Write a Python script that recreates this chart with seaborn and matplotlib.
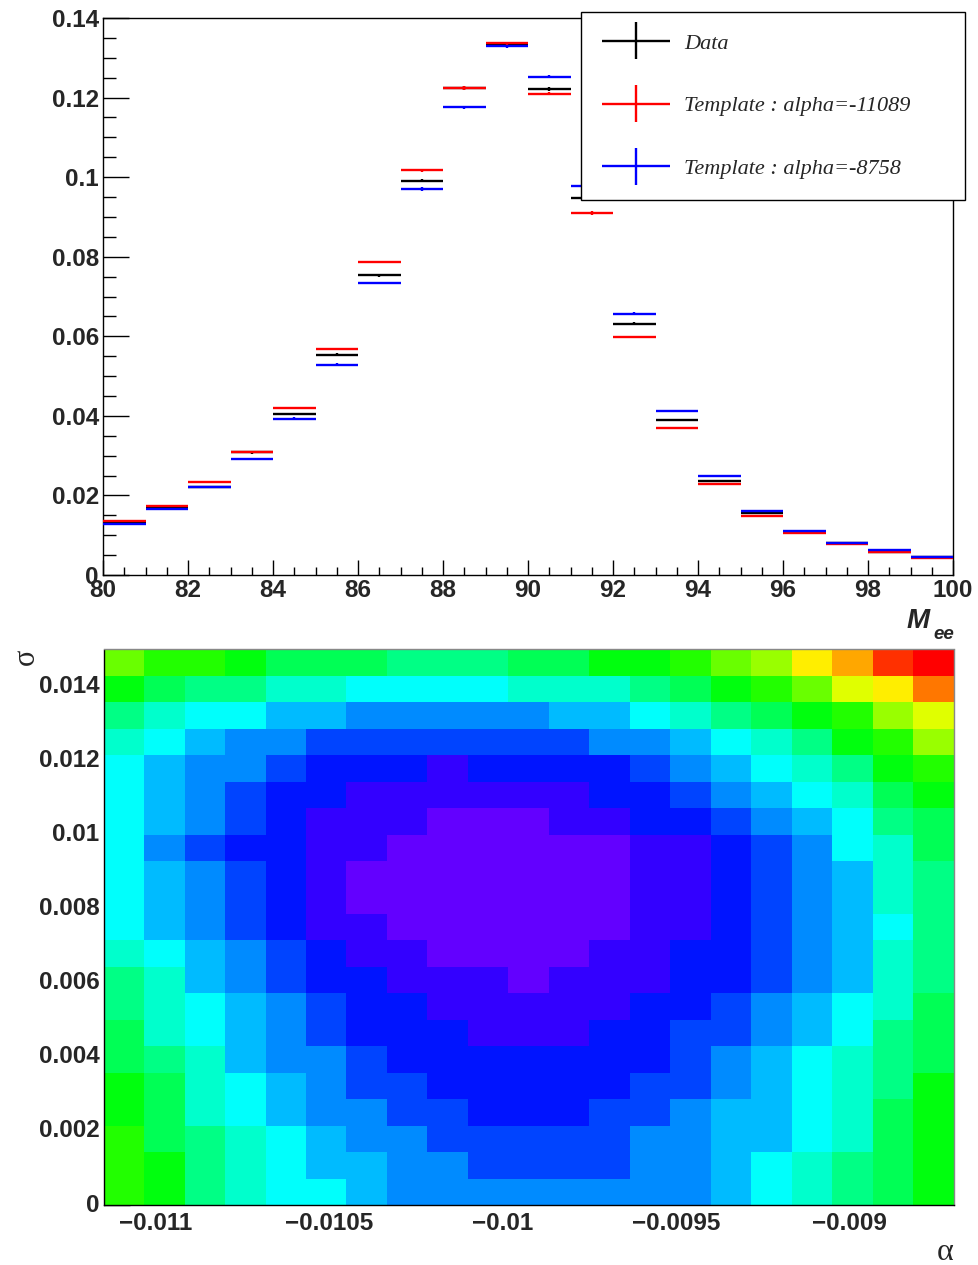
import colorsys
import numpy as np
import pandas as pd
import matplotlib
matplotlib.use("Agg")
import matplotlib.pyplot as plt
import seaborn as sns
from matplotlib.colors import ListedColormap
from matplotlib.ticker import MultipleLocator, FuncFormatter
from matplotlib.container import ErrorbarContainer
from matplotlib.legend_handler import HandlerErrorbar
from matplotlib.font_manager import FontProperties

# ---------------- top panel data (normalised M_ee distributions) ----------------
bin_lo = [80, 81, 82, 83, 84, 85, 86, 87, 88, 89, 90, 91, 92, 93, 94, 95, 96, 97, 98, 99]
bin_width = 1.0
data_vals = [0.0132, 0.0172, 0.0222, 0.0308, 0.0405, 0.0554, 0.0753, 0.0991, 0.1223, 0.1331,
             0.1221, 0.0948, 0.0632, 0.0390, 0.0236, 0.0156, 0.0108, 0.0080, 0.0059, 0.0044]
data_err = [0.0002, 0.0002, 0.0002, 0.0003, 0.0003, 0.0003, 0.0004, 0.0004, 0.0005, 0.0005,
            0.0005, 0.0004, 0.0004, 0.0003, 0.0003, 0.0002, 0.0002, 0.0002, 0.0002, 0.0001]
red_vals = [0.0135, 0.0174, 0.0233, 0.0308, 0.0419, 0.0568, 0.0786, 0.1017, 0.1224, 0.1336,
            0.1210, 0.0910, 0.0598, 0.0369, 0.0228, 0.0149, 0.0105, 0.0078, 0.0057, 0.0042]
red_err = [0.0002, 0.0002, 0.0002, 0.0002, 0.0003, 0.0003, 0.0003, 0.0004, 0.0004, 0.0004,
           0.0004, 0.0004, 0.0003, 0.0003, 0.0002, 0.0002, 0.0002, 0.0001, 0.0001, 0.0001]
blue_vals = [0.0127, 0.0167, 0.0220, 0.0292, 0.0393, 0.0529, 0.0734, 0.0970, 0.1176, 0.1329,
             0.1252, 0.0977, 0.0657, 0.0412, 0.0250, 0.0162, 0.0110, 0.0081, 0.0062, 0.0045]
blue_err = [0.0002, 0.0002, 0.0002, 0.0002, 0.0003, 0.0003, 0.0003, 0.0004, 0.0004, 0.0004,
            0.0004, 0.0004, 0.0003, 0.0003, 0.0002, 0.0002, 0.0002, 0.0001, 0.0001, 0.0001]
series_labels = ["Data", "Template : alpha=-11089", "Template : alpha=-8758"]

# ---------------- bottom panel data (scan in alpha / sigma, contour level per cell) ----------------
alpha_range = (-0.01115, -0.0087)
sigma_range = (0.0, 0.015)
# rows listed from lowest sigma (bottom) to highest sigma (top); 21 alpha columns each
level_rows = [
    [11, 10, 8, 7, 6, 6, 5, 4, 4, 4, 4, 4, 4, 4, 4, 5, 6, 7, 8, 9, 10],
    [11, 10, 8, 7, 6, 5, 5, 4, 4, 3, 3, 3, 3, 4, 4, 5, 6, 7, 8, 9, 10],
    [11, 9, 8, 7, 6, 5, 4, 4, 3, 3, 3, 3, 3, 4, 4, 5, 5, 6, 7, 9, 10],
    [10, 9, 7, 6, 5, 4, 4, 3, 3, 2, 2, 2, 3, 3, 4, 5, 5, 6, 7, 9, 10],
    [10, 9, 7, 6, 5, 4, 3, 3, 2, 2, 2, 2, 2, 3, 3, 4, 5, 6, 7, 8, 10],
    [9, 8, 7, 5, 4, 4, 3, 2, 2, 2, 2, 2, 2, 2, 3, 4, 5, 6, 7, 8, 9],
    [9, 7, 6, 5, 4, 3, 2, 2, 2, 1, 1, 1, 2, 2, 3, 3, 4, 5, 6, 8, 9],
    [8, 7, 6, 5, 4, 3, 2, 2, 1, 1, 1, 1, 1, 2, 2, 3, 4, 5, 6, 7, 9],
    [8, 7, 5, 4, 3, 2, 2, 1, 1, 1, 0, 1, 1, 1, 2, 2, 3, 4, 5, 7, 8],
    [7, 6, 5, 4, 3, 2, 1, 1, 0, 0, 0, 0, 1, 1, 2, 2, 3, 4, 5, 7, 8],
    [6, 5, 4, 3, 2, 1, 1, 0, 0, 0, 0, 0, 0, 1, 1, 2, 3, 4, 5, 6, 8],
    [6, 5, 4, 3, 2, 1, 0, 0, 0, 0, 0, 0, 0, 1, 1, 2, 3, 4, 5, 7, 8],
    [6, 5, 4, 3, 2, 1, 0, 0, 0, 0, 0, 0, 0, 1, 1, 2, 3, 4, 5, 7, 8],
    [6, 4, 3, 2, 2, 1, 1, 0, 0, 0, 0, 0, 0, 1, 1, 2, 3, 4, 6, 7, 9],
    [6, 5, 4, 3, 2, 1, 1, 1, 0, 0, 0, 1, 1, 2, 2, 3, 4, 5, 6, 8, 9],
    [6, 5, 4, 3, 2, 2, 1, 1, 1, 1, 1, 1, 2, 2, 3, 4, 5, 6, 7, 9, 10],
    [6, 5, 4, 4, 3, 2, 2, 2, 1, 2, 2, 2, 2, 3, 4, 5, 6, 7, 8, 10, 11],
    [7, 6, 5, 4, 4, 3, 3, 3, 3, 3, 3, 3, 4, 4, 5, 6, 7, 8, 10, 11, 13],
    [8, 7, 6, 6, 5, 5, 4, 4, 4, 4, 4, 5, 5, 6, 7, 8, 9, 10, 11, 13, 14],
    [10, 9, 8, 8, 7, 7, 6, 6, 6, 6, 7, 7, 7, 8, 9, 10, 11, 12, 14, 15, 17],
    [12, 11, 11, 10, 9, 9, 9, 8, 8, 8, 9, 9, 10, 10, 11, 12, 13, 15, 16, 18, 19],
]
n_levels = 20
alpha_ticks = [-0.011, -0.0105, -0.01, -0.0095, -0.009]
alpha_tick_labels = ["\u22120.011", "\u22120.0105", "\u22120.01", "\u22120.0095", "\u22120.009"]
sigma_ticks = [0.0, 0.002, 0.004, 0.006, 0.008, 0.010, 0.012, 0.014]
sigma_tick_labels = ["0", "0.002", "0.004", "0.006", "0.008", "0.01", "0.012", "0.014"]

# ---------------- style ----------------
sns.set_style("ticks")
plt.rcParams["font.family"] = ["Liberation Sans", "DejaVu Sans"]
plt.rcParams["font.weight"] = "bold"
plt.rcParams["axes.linewidth"] = 1.0

W, H = 979, 1265
fig = plt.figure(figsize=(W / 100, H / 100), dpi=100)
TICK_FS = 17.5


def root_palette(n):
    cols = []
    for k in range(n):
        p = int((k + 0.99) * 50 / n)
        if p >= 49:
            cols.append((1.0, 0.0, 0.0))
        else:
            hue = 280 - (p + 1) * 5.6
            cols.append(colorsys.hls_to_rgb(hue / 360.0, 0.5, 1.0))
    return cols


# ---------------- top panel ----------------
ax1 = fig.add_axes([103 / W, 1 - 575 / H, 850 / W, 557 / H])
centers = np.array(bin_lo) + bin_width / 2
c_data = ax1.errorbar(centers, data_vals, xerr=bin_width / 2, yerr=data_err, fmt="none",
                      ecolor="black", elinewidth=1.7, capsize=0, zorder=3)
c_red = ax1.errorbar(centers, red_vals, xerr=bin_width / 2, yerr=red_err, fmt="none",
                     ecolor="#ff0000", elinewidth=1.7, capsize=0, zorder=4)
c_blue = ax1.errorbar(centers, blue_vals, xerr=bin_width / 2, yerr=blue_err, fmt="none",
                      ecolor="#0000ff", elinewidth=1.7, capsize=0, zorder=5)
ax1.set_xlim(80, 100)
ax1.set_ylim(0, 0.14)
ax1.xaxis.set_major_locator(MultipleLocator(2))
ax1.xaxis.set_minor_locator(MultipleLocator(0.5))
ax1.yaxis.set_major_locator(MultipleLocator(0.02))
ax1.yaxis.set_minor_locator(MultipleLocator(0.005))
ax1.xaxis.set_major_formatter(FuncFormatter(lambda v, p: "%d" % round(v)))
ax1.yaxis.set_major_formatter(FuncFormatter(lambda v, p: ("%.2f" % v).rstrip("0").rstrip(".") if v else "0"))
ax1.tick_params(which="both", direction="in", top=False, right=False, width=1, color="black",
                labelsize=TICK_FS)
ax1.tick_params(axis="y", which="major", length=18.5, pad=3)
ax1.tick_params(axis="y", which="minor", length=9.5)
ax1.tick_params(axis="x", which="major", length=11, pad=3)
ax1.tick_params(axis="x", which="minor", length=6)
for s in ax1.spines.values():
    s.set_visible(True)
    s.set_color("black")

LEG_FS = 16
leg = fig.legend([c_data, c_red, c_blue], series_labels,
                 loc="upper left", bbox_to_anchor=(581 / W, 1 - 198 / H, 384 / W, 186 / H),
                 mode="expand", borderaxespad=0, borderpad=0.95, labelspacing=1.9,
                 handlelength=3.06, handletextpad=0.63,
                 prop=FontProperties(family="Liberation Serif", style="italic", weight="normal", size=LEG_FS),
                 handler_map={ErrorbarContainer: HandlerErrorbar(xerr_size=1.53, yerr_size=0.83)},
                 frameon=True, fancybox=False, framealpha=1, edgecolor="black", facecolor="white")
leg.get_frame().set_linewidth(1.0)
leg.set_zorder(10)

fig.text(930 / W, 1 - 628 / H, "M", fontsize=20, fontweight="bold", style="italic",
         ha="right", va="baseline")
fig.text(954 / W, 1 - 639 / H, "ee", fontsize=13.5, fontweight="bold", style="italic",
         ha="right", va="baseline")

# ---------------- bottom panel ----------------
ax2 = fig.add_axes([103.5 / W, 1 - 1205 / H, 850.5 / W, 555.5 / H])
grid = np.array(level_rows)[::-1]  # top row first for the heatmap
n_rows, n_cols = grid.shape
dx = (alpha_range[1] - alpha_range[0]) / n_cols
dy = (sigma_range[1] - sigma_range[0]) / n_rows
alpha_centres = alpha_range[0] + dx * (np.arange(n_cols) + 0.5)
sigma_centres = sigma_range[0] + dy * (np.arange(n_rows) + 0.5)
df = pd.DataFrame(grid, index=np.round(sigma_centres[::-1], 6), columns=np.round(alpha_centres, 7))
cmap = ListedColormap(root_palette(n_levels))
sns.heatmap(df, ax=ax2, cmap=cmap, vmin=-0.5, vmax=n_levels - 0.5, cbar=False, linewidths=0)


def a2x(a):
    return (np.asarray(a) - alpha_range[0]) / dx


def s2y(s):
    return n_rows - (np.asarray(s) - sigma_range[0]) / dy


ax2.set_xticks(a2x(alpha_ticks))
ax2.set_xticklabels(alpha_tick_labels, rotation=0)
ax2.set_xticks(a2x(np.arange(-0.0111, -0.00875, 0.0001)), minor=True)
ax2.set_yticks(s2y(sigma_ticks))
ax2.set_yticklabels(sigma_tick_labels, rotation=0)
ax2.set_yticks(s2y(np.arange(0, 0.0151, 0.0005)), minor=True)
ax2.set_xlim(0, n_cols)
ax2.set_ylim(n_rows, 0)
ax2.set_xlabel("")
ax2.set_ylabel("")
ax2.tick_params(which="both", direction="in", top=False, right=False, bottom=True, left=True,
                width=1, color="black", labelsize=TICK_FS)
ax2.tick_params(axis="y", which="major", length=18.5, pad=3)
ax2.tick_params(axis="y", which="minor", length=9.5)
ax2.tick_params(axis="x", which="major", length=11, pad=5)
ax2.tick_params(axis="x", which="minor", length=6)
for name, s in ax2.spines.items():
    s.set_visible(True)
    s.set_linewidth(1.0)
    s.set_color("black" if name in ("left", "bottom") else "#888888")

fig.text(26 / W, 1 - 657 / H, "\u03c3", fontsize=22, family="Liberation Serif", fontweight="normal",
         rotation=90, ha="center", va="center")
fig.text(954 / W, 1 - 1253 / H, "\u03b1", fontsize=23, family="Liberation Serif", fontweight="normal",
         ha="right", va="center")

fig.savefig("out.png", dpi=100)
